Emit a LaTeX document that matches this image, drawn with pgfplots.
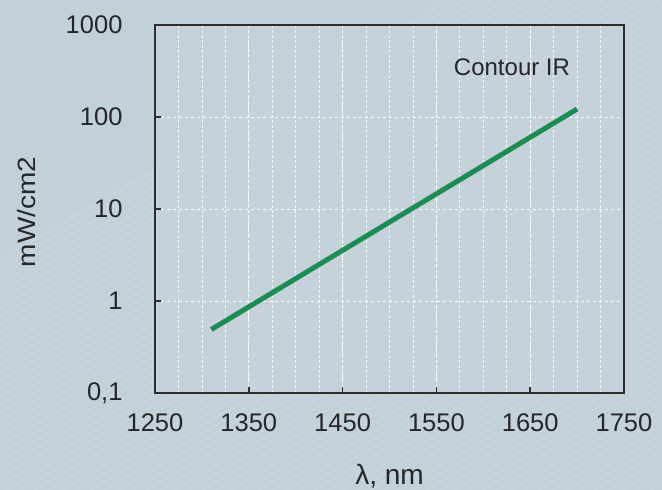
\documentclass[border=0pt]{standalone}
\usepackage{pgfplots}
\pgfplotsset{compat=1.18}
\usepackage{fontspec}
\setmainfont{Liberation Sans}
\definecolor{bg}{RGB}{194,208,216}
\definecolor{plotbg}{RGB}{198,211,219}
\definecolor{linegreen}{RGB}{28,140,84}
\definecolor{axisgray}{RGB}{45,45,45}
\begin{document}
\begin{tikzpicture}[x=1pt,y=1pt]
\fill[bg] (0,0) rectangle (662,490);
\begin{scope}
\clip (0,0) rectangle (662,490);
\foreach \k in {-400,-386,...,700} {
  \draw[white, opacity=0.08, line width=3pt] (\k,0) -- ++(850,490);
}
\end{scope}
\useasboundingbox (0,0) rectangle (662,490);
\begin{axis}[
  at={(155pt,97pt)}, anchor=south west,
  scale only axis, width=469pt, height=368pt,
  xmin=1250, xmax=1750, ymode=log, ymin=0.1, ymax=1000,
  axis background/.style={fill=plotbg, fill opacity=0.6},
  xtick={1250,1350,1450,1550,1650,1750},
  xticklabels={1250,1350,1450,1550,1650,1750},
  minor xtick={1275,1300,...,1725},
  ytick={0.1,1,10,100,1000},
  yticklabels={{0,1},1,10,100,1000},
  xmajorgrids=true, xminorgrids=true,
  ymajorgrids=true, yminorgrids=false,
  minor y tick num=0,
  xtick pos=bottom, ytick pos=left,
  major grid style={white, dashed, line width=0.8pt, opacity=0.9},
  minor grid style={white, densely dashed, line width=0.7pt, opacity=0.8},
  tick align=inside,
  major tick length=6pt, minor tick length=0pt,
  tick style={axisgray, line width=1.5pt},
  axis line style={axisgray, line width=1.5pt},
  /pgf/number format/assume math mode=true,
  ticklabel style={font=\fontsize{25.5}{28}\selectfont, text=black!85},
  xticklabel style={yshift=-17pt},
  yticklabel style={xshift=-29pt},
]
\addplot[linegreen, line width=5pt] coordinates {(1310,0.49) (1700,122)};
\end{axis}
\node[font=\fontsize{24}{28}\selectfont, text=black!85] at (512,423) {Contour IR};
\node[font=\fontsize{28}{30}\selectfont, text=black!85] at (389.5,14) {λ, nm};
\node[rotate=90, xscale=1.12, font=\fontsize{25}{28}\selectfont, text=black!85] at (27,278) {mW/cm2};
\end{tikzpicture}
\end{document}
